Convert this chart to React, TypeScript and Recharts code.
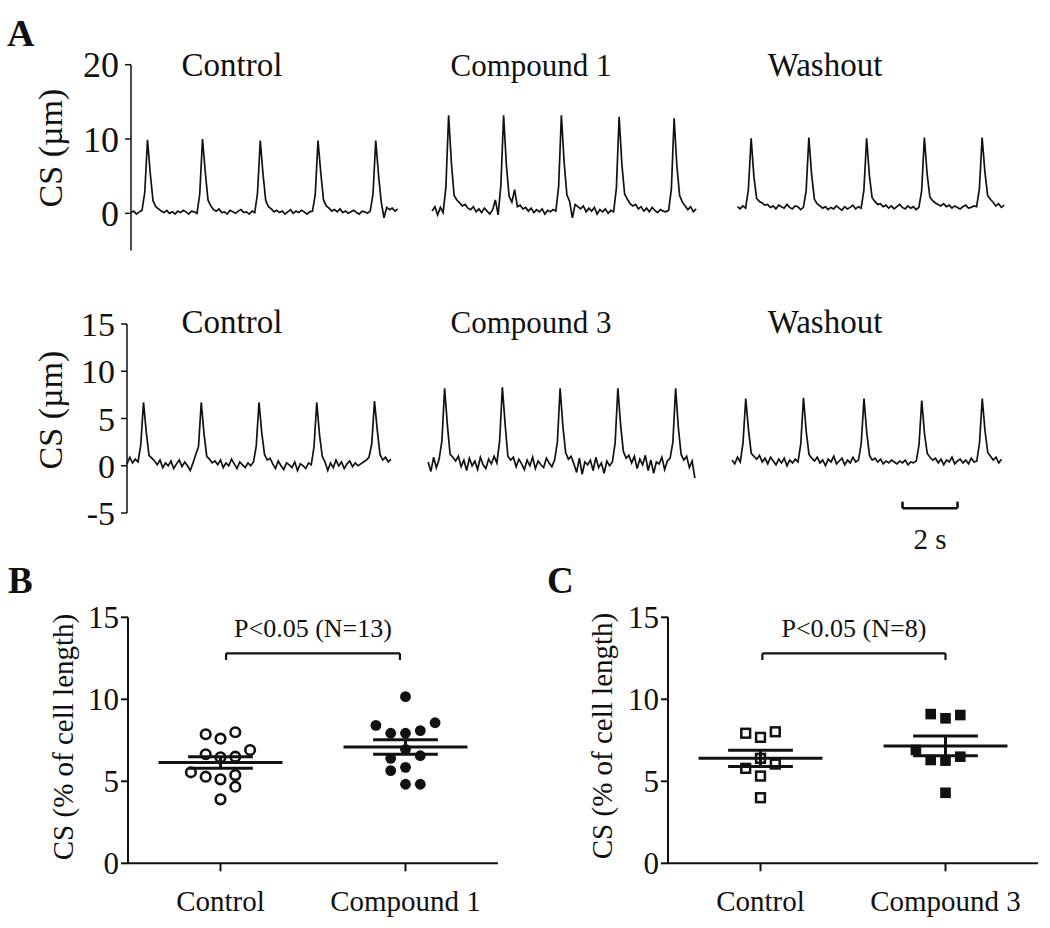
import React from 'react';
import { LineChart, Line, XAxis, YAxis, ScatterChart, Scatter, ReferenceLine } from 'recharts';

const FONT = '"Liberation Serif", "Times New Roman", Times, serif';
const INK = '#111';
const STEP = 0.1; // seconds between trace samples

// ---------- Panel A : cell shortening traces (µm), sampled every 0.1 s ----------
const topTitles = ['Control', 'Compound 1', 'Washout'];
const botTitles = ['Control', 'Compound 3', 'Washout'];
const topStarts = [0, 10.95, 22.05];
const botStarts = [0, 10.95, 22.0];
const topTicks = [0, 10, 20];
const botTicks = [-5, 0, 5, 10, 15];
const traceYLabel = 'CS (µm)';

const topControl = [0.1,0.3,-0.1,0.2,0.4, 2.8,9.9,5.4,1.7,0.9,0.6, 0.3,0.1,0.4,0.0,0.2,-0.1,0.3,0.1,0.4,0.2,-0.1,0.3,0.2,0.0, 2.6,10.0,5.6,1.8,1.0,0.5, 0.3,0.6,0.1,0.2,-0.1,0.4,0.2,0.0,0.3,0.5,0.1,0.2,-0.1,0.3,0.1, 2.7,9.8,5.3,1.7,0.9,0.6, 0.2,0.4,0.1,0.3,-0.1,0.2,0.5,0.0,0.3,0.1,0.4,0.2,-0.1,0.2,0.3, 2.5,9.8,5.5,1.8,1.0,0.7, 0.3,0.5,0.2,0.6,0.1,0.3,0.0,0.2,0.4,0.1,-0.1,0.3,0.2,0.0,0.3, 2.6,9.8,5.2,1.5,-0.6,0.8,0.5,0.7,0.3,0.6];
const topCompound1 = [0.3,0.9,-0.2,0.8,0.1, 3.5,13.2,6.8,2.4,1.8,1.4,1.0,1.2,0.7, 0.5,0.9,0.2,0.6,0.1,0.7,0.3,-0.1,0.5,1.8,-0.2, 3.8,13.2,6.5,2.3,1.5,3.2,0.9,1.1,0.6, 0.8,0.3,0.7,0.1,0.5,0.2,0.6,-0.1,0.4,0.2,0.5,0.3, 3.6,13.2,6.9,2.5,1.6,-0.6,1.2,0.9, 0.6,1.0,0.2,0.7,0.3,0.8,-0.1,0.5,0.2,0.6,0.0,0.4,0.2, 3.4,13.0,6.6,2.6,1.9,1.3,1.0,1.2, 0.6,0.9,0.3,0.7,0.2,0.8,0.4,0.1,0.5,0.3,0.2,0.4, 3.3,12.8,6.4,2.4,1.5,1.0,0.5,0.9,0.2,0.6];
const topWashout = [0.9,0.6,1.0,0.7, 3.2,10.1,5.0,2.0,1.6,1.4,1.1, 1.2,0.8,1.0,0.6,1.1,0.9,0.7,1.2,0.8,0.6,1.0,0.9,0.5,0.8, 3.0,10.2,5.2,1.9,1.3,1.0,0.7, 0.9,0.5,0.8,0.6,1.0,0.7,0.4,0.9,0.6,0.8,1.1,0.6,0.9,0.7, 3.1,10.1,5.1,2.1,1.6,1.2,1.3, 0.9,1.1,0.7,1.0,0.6,0.9,1.2,0.8,0.6,1.0,0.7,0.9,0.5,0.8, 3.0,10.2,5.3,2.2,1.7,1.4,1.2, 1.0,1.3,0.9,1.1,0.7,1.0,0.8,0.6,0.9,1.1,0.7,0.8,1.0,0.9, 3.3,10.2,5.6,2.4,1.9,1.5,1.0,1.3,0.8,1.1];

const botControl = [0.2,0.9,0.3,0.7,0.4, 2.2,6.7,3.6,1.1,0.8,0.5, 0.1,0.6,-0.2,0.3,0.0,0.5,-0.3,0.2,0.6,-0.1,0.4,0.0,-0.5,0.3,1.2, 2.0,6.7,3.4,1.0,0.7,0.3, 0.5,0.1,0.6,-0.2,0.3,0.0,0.7,0.2,-0.3,0.4,0.1,-0.2,0.3,0.0,0.4, 2.1,6.7,3.5,1.2,0.6,0.8, 0.2,-0.3,0.5,0.0,-0.4,0.3,0.1,-0.2,0.4,-0.5,0.2,0.0,-0.3,0.3,0.1, 2.0,6.7,3.3,1.0,0.4,-0.5, 0.3,-0.2,0.6,0.0,0.4,-0.3,0.2,0.5,-0.1,0.3,0.0,0.2,0.4,0.6,0.9, 2.3,6.85,3.8,1.2,0.6,0.9,0.4,0.7];
const botCompound3 = [0.4,-0.6,0.9,-0.2,0.7, 2.6,8.2,4.3,1.2,0.9,0.5, 1.0,-0.1,0.6,-0.5,0.8,0.0,0.5,-0.4,0.9,0.1,-0.3,0.7,0.2,1.0,0.3, 2.6,8.3,4.4,1.0,0.6,0.9, -0.1,0.7,0.2,-0.4,0.6,0.0,0.9,-0.3,0.5,0.1,-0.2,0.8,0.3,-0.1,0.6, 2.5,8.2,4.2,1.4,0.7,1.0, 0.2,-0.7,0.8,-0.9,0.4,0.1,0.6,-0.5,0.9,-0.2,0.3,-0.8,0.5,0.0,0.4, 2.4,8.2,4.3,1.5,0.8,1.1, 0.3,1.0,-0.3,0.7,0.1,1.1,-0.5,0.6,-0.8,0.4,0.2,0.9,-0.4,0.5,0.8, 2.5,8.2,4.0,1.2,0.6,1.0,-0.2,0.5,-1.3];
const botWashout = [0.6,0.2,0.9,0.4, 2.4,7.1,3.8,1.3,1.0,0.7, 1.1,0.4,0.8,0.2,0.9,0.5,0.1,0.7,0.3,0.8,0.0,0.6,0.3,0.7,0.4, 2.3,7.2,3.6,1.2,0.8,0.5, 0.9,0.3,0.6,0.0,0.7,0.4,1.0,0.2,0.5,0.8,0.1,0.6,0.3,0.9,0.4,0.6, 2.4,7.1,3.5,1.1,0.6,0.8, 0.4,0.7,0.2,0.5,0.3,0.6,0.4,0.2,0.5,0.3,0.6,0.1,0.4,0.3,0.5, 2.2,6.9,3.4,1.3,0.9,0.6, 0.8,0.3,0.7,0.1,0.6,0.4,0.9,0.2,0.5,0.7,0.3,0.6,0.2,0.8,0.4,0.5, 2.4,7.1,3.7,1.4,1.0,0.6,0.9,0.3,0.7];

// scale bar: 2 s
const scaleBarStart = 28.2;
const scaleBarLen = 2;
const scaleBarY = -4.5;
const scaleBarTick = -3.8;

// ---------- Panel B ----------
const scatterYLabel = 'CS (% of cell length)';
const bCategories = ['Control', 'Compound 1'];
const bControl = [7.87, 7.6, 7.99, 6.65, 6.46, 6.5, 6.91, 5.55, 5.28, 5.12, 5.38, 4.67, 3.9];
const bControlCols = [-1, 0, 1, -1, 0, 1, 2, -2, -1, 0, 1, 1, 0];
const bCompound1 = [10.16, 8.41, 8.57, 7.93, 7.93, 8.09, 6.95, 6.4, 6.56, 5.65, 5.85, 4.82, 4.82];
const bCompound1Cols = [0, -2, 2, -1, 0, 1, 0, -1, 1, -1, 0, 0, 1];
const bPText = 'P<0.05 (N=13)';
const bBracket = [1.03, 1.97];

// ---------- Panel C ----------
const cCategories = ['Control', 'Compound 3'];
const cControl = [7.93, 7.68, 8.02, 6.4, 5.79, 6.05, 5.32, 4.0];
const cControlCols = [-1, 0, 1, 0, -1, 1, 0, 0];
const cCompound3 = [9.1, 8.84, 9.04, 6.91, 6.3, 6.26, 6.5, 4.3];
const cCompound3Cols = [-1, 0, 1, -2, -1, 0, 1, 0];
const cPText = 'P<0.05 (N=8)';
const cBracket = [1.01, 2.0];

const scatterTicks = [0, 5, 10, 15];
const bracketTop = 12.8;
const bracketFoot = 12.4;

const COL_W = 0.08;     // horizontal spacing of scatter columns (category units)
const MEAN_HALF = 0.335;
const SEM_HALF = 0.175;

// ---------- helpers ----------
function buildRow(traces: number[][], starts: number[]) {
  const rows: any[] = [];
  traces.forEach((vals, k) => {
    vals.forEach((v, i) => {
      const p: any = { t: +(starts[k] + i * STEP).toFixed(3) };
      p['s' + k] = v;
      rows.push(p);
    });
  });
  return rows;
}
const mean = (a: number[]) => a.reduce((s, v) => s + v, 0) / a.length;
const sem = (a: number[]) => {
  const m = mean(a);
  const sd = Math.sqrt(a.reduce((s, v) => s + (v - m) * (v - m), 0) / (a.length - 1));
  return sd / Math.sqrt(a.length);
};
const pts = (vals: number[], cols: number[], cat: number) =>
  vals.map((v, i) => ({ x: cat + cols[i] * COL_W, y: v }));

const topData = buildRow([topControl, topCompound1, topWashout], topStarts);
const botData = buildRow([botControl, botCompound3, botWashout], botStarts);

const openCircle = (p: any) => <circle cx={p.cx} cy={p.cy} r={4.8} fill="none" stroke={INK} strokeWidth={2.6} />;
const fillCircle = (p: any) => <circle cx={p.cx} cy={p.cy} r={5.4} fill={INK} />;
const openSquare = (p: any) => <rect x={p.cx - 4.4} y={p.cy - 4.4} width={8.8} height={8.8} fill="none" stroke={INK} strokeWidth={2.5} />;
const fillSquare = (p: any) => <rect x={p.cx - 5.3} y={p.cy - 5.3} width={10.6} height={10.6} fill={INK} />;

function TraceRow(props: { data: any[]; ticks: number[]; domain: number[]; yWidth: number; height: number; margin: any; tickSize: number; scaleBar?: boolean }) {
  const { data, ticks, domain, yWidth, height, margin, scaleBar } = props;
  return (
    <LineChart width={1050} height={height} data={data} margin={margin}>
      <XAxis type="number" dataKey="t" domain={[0, 32]} hide />
      <YAxis type="number" domain={domain} ticks={ticks} width={yWidth} interval={0}
        axisLine={{ stroke: INK, strokeWidth: 1.5 }} tickLine={{ stroke: INK, strokeWidth: 1.5 }}
        tickSize={6} tickMargin={6}
        tick={{ fontSize: props.tickSize, fill: INK, fontFamily: FONT }} />
      {[0, 1, 2].map((k) => (
        <Line key={k} type="linear" dataKey={'s' + k} stroke={INK} strokeWidth={1.7} dot={false}
          isAnimationActive={false} connectNulls={false} />
      ))}
      {scaleBar && (
        <ReferenceLine segment={[{ x: scaleBarStart, y: scaleBarY }, { x: scaleBarStart + scaleBarLen, y: scaleBarY }]}
          stroke={INK} strokeWidth={2.6}
          label={{ value: `${scaleBarLen} s`, position: 'bottom', offset: 20, fontSize: 29, fill: INK, fontFamily: FONT }} />
      )}
      {scaleBar && (
        <ReferenceLine segment={[{ x: scaleBarStart, y: scaleBarY }, { x: scaleBarStart, y: scaleBarTick }]} stroke={INK} strokeWidth={2.6} />
      )}
      {scaleBar && (
        <ReferenceLine segment={[{ x: scaleBarStart + scaleBarLen, y: scaleBarY }, { x: scaleBarStart + scaleBarLen, y: scaleBarTick }]} stroke={INK} strokeWidth={2.6} />
      )}
    </LineChart>
  );
}

function DotPanel(props: { cats: string[]; g1: number[]; c1: number[]; g2: number[]; c2: number[]; s1: any; s2: any; pText: string; bracket: number[] }) {
  const { cats, g1, c1, g2, c2, s1, s2, pText, bracket } = props;
  const groups = [g1, g2];
  return (
    <ScatterChart width={530} height={368} margin={{ top: 57.3, right: 32, bottom: 14.7, left: 0 }}>
      <XAxis type="number" dataKey="x" domain={[0.5, 2.5]} ticks={[1, 2]} interval={0} height={50}
        tickFormatter={(v: number) => cats[v - 1]}
        axisLine={{ stroke: INK, strokeWidth: 2 }} tickLine={{ stroke: INK, strokeWidth: 2 }}
        tickSize={8} tickMargin={19}
        tick={{ fontSize: 29, fill: INK, fontFamily: FONT }} />
      <YAxis type="number" dataKey="y" domain={[0, 15]} ticks={scatterTicks} interval={0} width={128}
        axisLine={{ stroke: INK, strokeWidth: 2 }} tickLine={{ stroke: INK, strokeWidth: 2 }}
        tickSize={7} tickMargin={2}
        tick={{ fontSize: 31, fill: INK, fontFamily: FONT }} />
      <Scatter data={pts(g1, c1, 1)} shape={s1} isAnimationActive={false} />
      <Scatter data={pts(g2, c2, 2)} shape={s2} isAnimationActive={false} />
      {groups.map((g, i) => {
        const m = mean(g);
        const e = sem(g);
        const cx = i + 1;
        return (
          <React.Fragment key={i}>
            <ReferenceLine segment={[{ x: cx - MEAN_HALF, y: m }, { x: cx + MEAN_HALF, y: m }]} stroke={INK} strokeWidth={3} />
            <ReferenceLine segment={[{ x: cx - SEM_HALF, y: m + e }, { x: cx + SEM_HALF, y: m + e }]} stroke={INK} strokeWidth={3} />
            <ReferenceLine segment={[{ x: cx - SEM_HALF, y: m - e }, { x: cx + SEM_HALF, y: m - e }]} stroke={INK} strokeWidth={3} />
            <ReferenceLine segment={[{ x: cx, y: m - e }, { x: cx, y: m + e }]} stroke={INK} strokeWidth={3} />
          </React.Fragment>
        );
      })}
      <ReferenceLine segment={[{ x: bracket[0], y: bracketTop }, { x: bracket[1], y: bracketTop }]} stroke={INK} strokeWidth={2.2}
        label={{ value: pText, position: 'top', offset: 16, fontSize: 26, fill: INK, fontFamily: FONT }} />
      <ReferenceLine segment={[{ x: bracket[0], y: bracketTop }, { x: bracket[0], y: bracketFoot }]} stroke={INK} strokeWidth={2.2} />
      <ReferenceLine segment={[{ x: bracket[1], y: bracketTop }, { x: bracket[1], y: bracketFoot }]} stroke={INK} strokeWidth={2.2} />
    </ScatterChart>
  );
}

const RotText = (p: { x: number; y: number; size: number; children: string }) => (
  <text transform={`translate(${p.x} ${p.y}) rotate(-90)`} x={0} y={0} textAnchor="middle"
    dominantBaseline="central" fontSize={p.size} fill={INK}
    style={{ fontFamily: '"Liberation Serif", "Times New Roman", serif' }}>{p.children}</text>
);

export default function App() {
  const titleX = [232, 531, 825];
  return (
    <div style={{ position: 'absolute', left: 0, top: 0, width: 1050, height: 928, background: '#fff', overflow: 'hidden' }}>
      <div style={{ position: 'absolute', left: 0, top: 0 }}>
        <TraceRow data={topData} ticks={topTicks} domain={[-5, 20]} yWidth={131} height={262} tickSize={36}
          margin={{ top: 64.7, right: 39, bottom: 11.5, left: 0 }} />
      </div>
      <div style={{ position: 'absolute', left: 0, top: 262 }}>
        <TraceRow data={botData} ticks={botTicks} domain={[-5, 15]} yWidth={127} height={298} tickSize={34}
          margin={{ top: 62, right: 43, bottom: 47, left: 0 }} scaleBar />
      </div>
      <div style={{ position: 'absolute', left: 0, top: 560 }}>
        <DotPanel cats={bCategories} g1={bControl} c1={bControlCols} g2={bCompound1} c2={bCompound1Cols}
          s1={openCircle} s2={fillCircle} pText={bPText} bracket={bBracket} />
      </div>
      <div style={{ position: 'absolute', left: 540, top: 560 }}>
        <DotPanel cats={cCategories} g1={cControl} c1={cControlCols} g2={cCompound3} c2={cCompound3Cols}
          s1={openSquare} s2={fillSquare} pText={cPText} bracket={cBracket} />
      </div>
      <svg width={1050} height={928} style={{ position: 'absolute', left: 0, top: 0, pointerEvents: 'none' }}>
        <g fontFamily={FONT} fill={INK}>
          <text x={7} y={46} fontSize={38} fontWeight="bold">A</text>
          <text x={8} y={593} fontSize={37} fontWeight="bold">B</text>
          <text x={547} y={593} fontSize={37} fontWeight="bold">C</text>
          {topTitles.map((t, i) => (
            <text key={'t' + i} x={titleX[i]} y={76} textAnchor="middle" fontSize={i === 1 ? 31 : 33}>{t}</text>
          ))}
          {botTitles.map((t, i) => (
            <text key={'b' + i} x={titleX[i]} y={333} textAnchor="middle" fontSize={i === 1 ? 31 : 33}>{t}</text>
          ))}
        </g>
        <RotText x={50} y={148} size={34}>{traceYLabel}</RotText>
        <RotText x={50} y={410} size={34}>{traceYLabel}</RotText>
        <RotText x={63} y={737} size={29}>{scatterYLabel}</RotText>
        <RotText x={602} y={736} size={29}>{scatterYLabel}</RotText>
      </svg>
    </div>
  );
}
